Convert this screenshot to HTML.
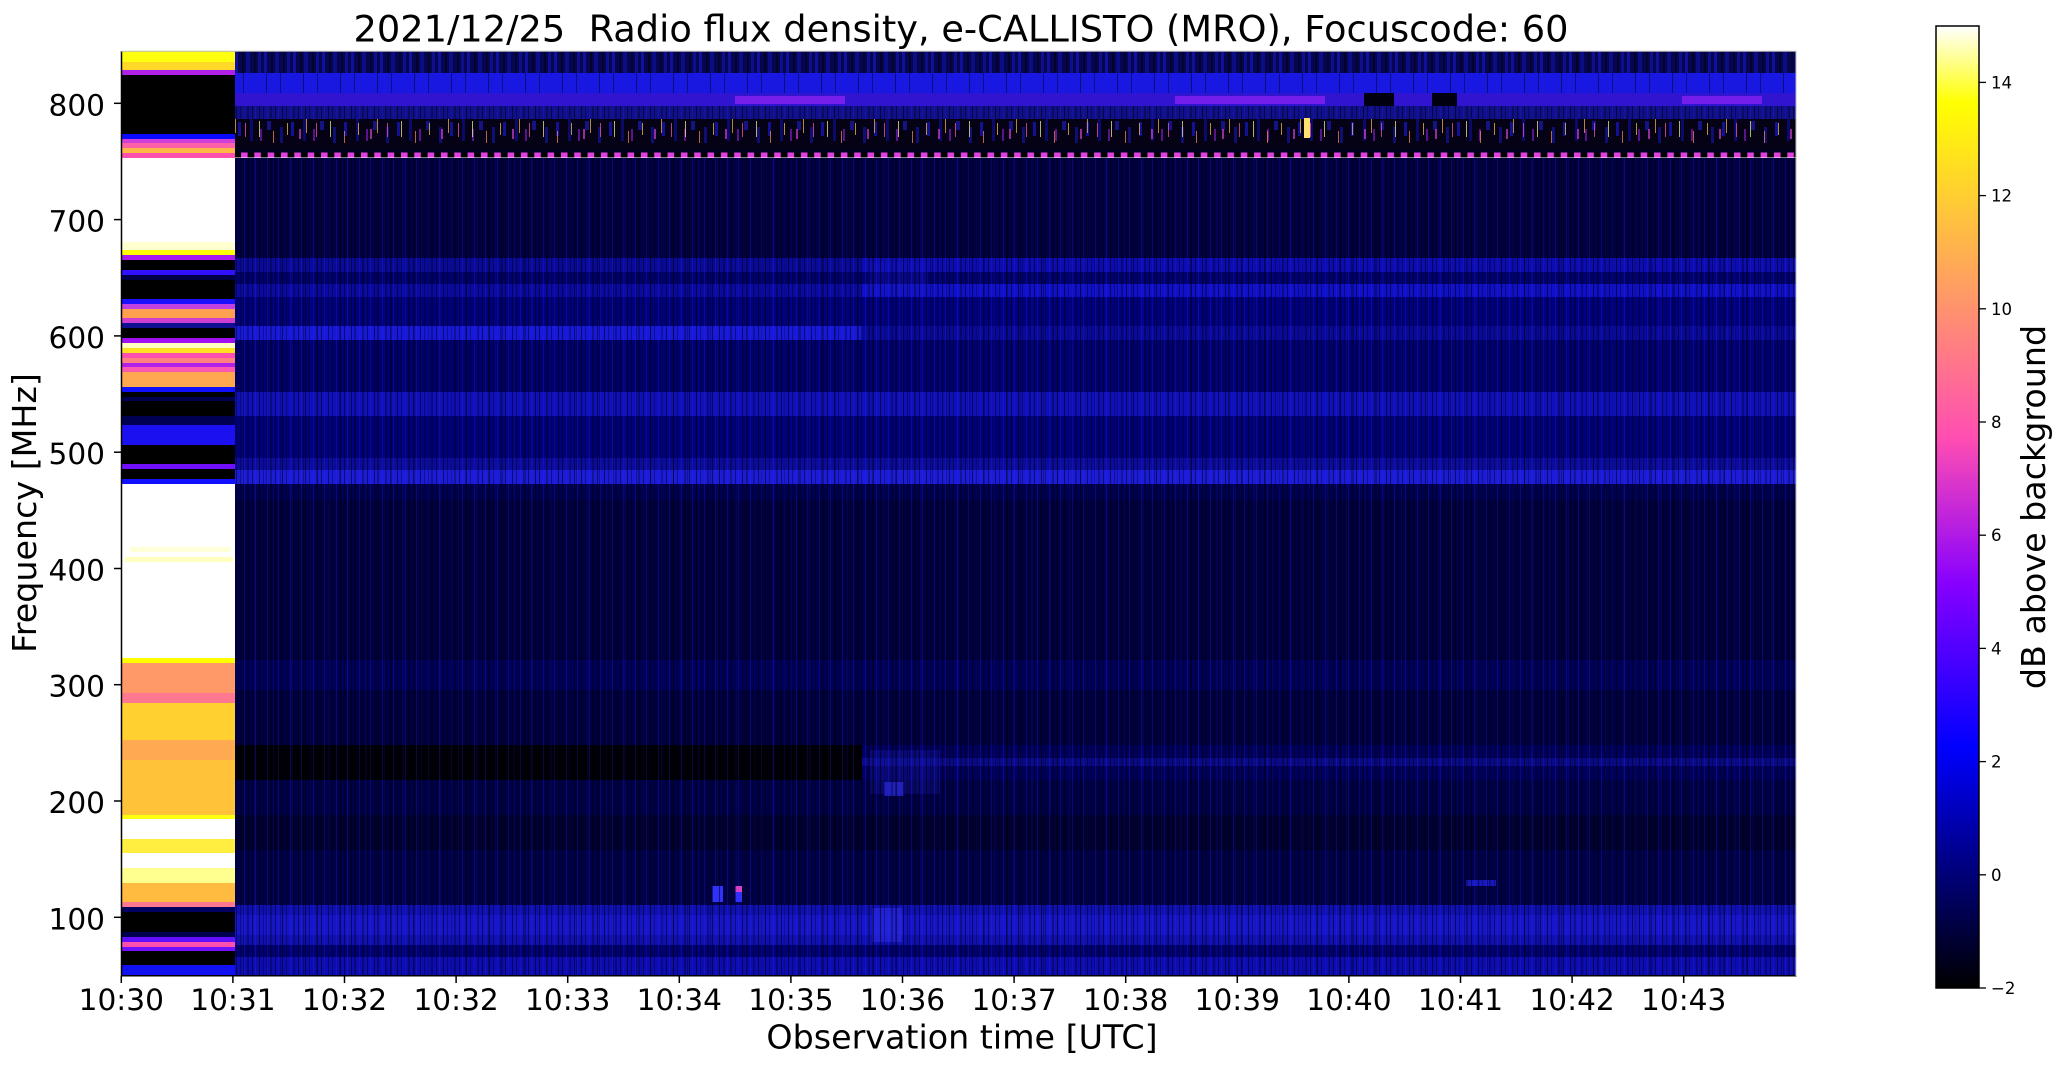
<!DOCTYPE html>
<html><head><meta charset="utf-8">
<style>html,body{margin:0;padding:0;background:#fff;}svg{display:block}</style>
</head><body>
<svg width="2066" height="1067" viewBox="0 0 2066 1067" xmlns="http://www.w3.org/2000/svg" font-family="'DejaVu Sans','Liberation Sans',sans-serif">
<defs>
<linearGradient id="cmap" x1="0" y1="1" x2="0" y2="0">
 <stop offset="0" stop-color="#000000"/>
 <stop offset="0.25" stop-color="#0000ff"/>
 <stop offset="0.42" stop-color="#8700ff"/>
 <stop offset="0.57" stop-color="#ff4db3"/>
 <stop offset="0.92" stop-color="#ffff00"/>
 <stop offset="1" stop-color="#ffffff"/>
</linearGradient>
<pattern id="streaks" patternUnits="userSpaceOnUse" x="235" y="0" width="23" height="10">
 <rect x="1" y="0" width="1" height="10" fill="#000" opacity="0.55"/>
 <rect x="5" y="0" width="1" height="10" fill="#000" opacity="0.35"/>
 <rect x="9" y="0" width="1" height="10" fill="#2a2aff" opacity="0.22"/>
 <rect x="12" y="0" width="2" height="10" fill="#000" opacity="0.3"/>
 <rect x="17" y="0" width="1" height="10" fill="#000" opacity="0.5"/>
 <rect x="20" y="0" width="1" height="10" fill="#3030ff" opacity="0.18"/>
</pattern>
<pattern id="streaks2" patternUnits="userSpaceOnUse" x="240" y="0" width="37" height="10">
 <rect x="3" y="0" width="1" height="10" fill="#000" opacity="0.4"/>
 <rect x="14" y="0" width="2" height="10" fill="#1a1aff" opacity="0.15"/>
 <rect x="26" y="0" width="1" height="10" fill="#000" opacity="0.45"/>
 <rect x="33" y="0" width="1" height="10" fill="#2020ff" opacity="0.12"/>
</pattern>
<pattern id="burstA" patternUnits="userSpaceOnUse" x="236" y="119" width="53" height="31">
 <rect x="2" y="3" width="3" height="14" fill="#1e1eff"/>
 <rect x="14" y="0" width="3" height="22" fill="#1010b0"/>
 <rect x="24" y="10" width="2" height="12" fill="#a020f0"/>
 <rect x="31" y="2" width="4" height="9" fill="#2020e0"/>
 <rect x="44" y="8" width="3" height="16" fill="#1818c0"/>
</pattern>
<pattern id="burstB" patternUnits="userSpaceOnUse" x="240" y="119" width="71" height="31">
 <rect x="5" y="4" width="1" height="14" fill="#ff5cb0"/>
 <rect x="19" y="2" width="1" height="16" fill="#ffff90"/>
 <rect x="33" y="12" width="1" height="12" fill="#ff9060"/>
 <rect x="47" y="4" width="1" height="12" fill="#ffd040"/>
 <rect x="59" y="10" width="2" height="10" fill="#d040d0"/>
 <rect x="66" y="0" width="1" height="14" fill="#ffc040"/>
</pattern>
<pattern id="dash" patternUnits="userSpaceOnUse" x="241" y="0" width="13.33" height="10">
 <rect x="0" y="0" width="6.6" height="10" fill="#e040e0"/>
</pattern>
<pattern id="topblue" patternUnits="userSpaceOnUse" x="235" y="0" width="29" height="10">
 <rect x="0" y="0" width="3" height="10" fill="#1c1cf0" opacity="0.8"/>
 <rect x="7" y="0" width="2" height="10" fill="#000" opacity="0.7"/>
 <rect x="11" y="0" width="4" height="10" fill="#1414d0" opacity="0.7"/>
 <rect x="19" y="0" width="2" height="10" fill="#000" opacity="0.6"/>
 <rect x="23" y="0" width="3" height="10" fill="#2020ff" opacity="0.6"/>
</pattern>
</defs>

<rect x="0" y="0" width="2066" height="1067" fill="#ffffff"/>

<!-- Title -->
<text x="961" y="41.7" font-size="36.5" text-anchor="middle" textLength="1215" lengthAdjust="spacingAndGlyphs" fill="#000" xml:space="preserve">2021/12/25  Radio flux density, e-CALLISTO (MRO), Focuscode: 60</text>

<!-- ===== Left strip (x 121-235) ===== -->
<g shape-rendering="crispEdges">
<rect x="121" y="51" width="114" height="11" fill="#ffff10"/>
<rect x="121" y="62" width="114" height="8" fill="#ffd828"/>
<rect x="121" y="70" width="114" height="5" fill="#b020e8"/>
<rect x="121" y="75" width="114" height="59" fill="#000000"/>
<rect x="121" y="134" width="114" height="5" fill="#0a0aff"/>
<rect x="121" y="139" width="114" height="4" fill="#d040d8"/>
<rect x="121" y="143" width="114" height="5" fill="#ff60a8"/>
<rect x="121" y="148" width="114" height="5" fill="#ffb848"/>
<rect x="121" y="153" width="114" height="5" fill="#ff50b0"/>
<rect x="121" y="158" width="114" height="84" fill="#ffffff"/>
<rect x="121" y="242" width="114" height="8" fill="#ffffd0"/>
<rect x="121" y="250" width="114" height="5" fill="#ffff00"/>
<rect x="121" y="255" width="114" height="5" fill="#a818f0"/>
<rect x="121" y="260" width="114" height="10" fill="#000000"/>
<rect x="121" y="270" width="114" height="5" fill="#3010ff"/>
<rect x="121" y="275" width="114" height="5" fill="#000048"/>
<rect x="121" y="280" width="114" height="19" fill="#000000"/>
<rect x="121" y="299" width="114" height="5" fill="#1a10ff"/>
<rect x="121" y="304" width="114" height="5" fill="#c040e0"/>
<rect x="121" y="309" width="114" height="9" fill="#ffa050"/>
<rect x="121" y="318" width="114" height="5" fill="#d040d0"/>
<rect x="121" y="323" width="114" height="5" fill="#101090"/>
<rect x="121" y="328" width="114" height="10" fill="#000000"/>
<rect x="121" y="338" width="114" height="5" fill="#a010f0"/>
<rect x="121" y="343" width="114" height="5" fill="#ffffc0"/>
<rect x="121" y="348" width="114" height="5" fill="#ffe020"/>
<rect x="121" y="353" width="114" height="5" fill="#ff50b0"/>
<rect x="121" y="358" width="114" height="5" fill="#ff8080"/>
<rect x="121" y="363" width="114" height="4" fill="#b020e8"/>
<rect x="121" y="367" width="114" height="5" fill="#ff58b0"/>
<rect x="121" y="372" width="114" height="15" fill="#ffa850"/>
<rect x="121" y="387" width="114" height="5" fill="#1010ff"/>
<rect x="121" y="392" width="114" height="5" fill="#000000"/>
<rect x="121" y="397" width="114" height="4" fill="#000050"/>
<rect x="121" y="401" width="114" height="15" fill="#000000"/>
<rect x="121" y="416" width="114" height="9" fill="#000050"/>
<rect x="121" y="425" width="114" height="20" fill="#1a10f0"/>
<rect x="121" y="445" width="114" height="19" fill="#000000"/>
<rect x="121" y="464" width="114" height="5" fill="#7010ff"/>
<rect x="121" y="469" width="114" height="10" fill="#000000"/>
<rect x="121" y="479" width="114" height="5" fill="#1010ff"/>
<rect x="121" y="484" width="114" height="174" fill="#ffffff"/>
<rect x="130" y="547" width="100" height="5" fill="#ffffd8"/>
<rect x="125" y="557" width="108" height="5" fill="#ffffc0"/>
<rect x="121" y="658" width="114" height="5" fill="#ffff00"/>
<rect x="121" y="663" width="114" height="30" fill="#ff9a68"/>
<rect x="121" y="693" width="114" height="10" fill="#ff7890"/>
<rect x="121" y="703" width="114" height="37" fill="#ffd030"/>
<rect x="121" y="740" width="114" height="20" fill="#ffaa50"/>
<rect x="121" y="760" width="114" height="55" fill="#ffc238"/>
<rect x="121" y="815" width="114" height="4" fill="#ffff10"/>
<rect x="121" y="819" width="114" height="20" fill="#ffffff"/>
<rect x="121" y="839" width="114" height="14" fill="#ffee40"/>
<rect x="121" y="853" width="114" height="15" fill="#ffffff"/>
<rect x="121" y="868" width="114" height="15" fill="#ffff90"/>
<rect x="121" y="883" width="114" height="19" fill="#ffba40"/>
<rect x="121" y="902" width="114" height="5" fill="#ff7890"/>
<rect x="121" y="907" width="114" height="5" fill="#000060"/>
<rect x="121" y="912" width="114" height="20" fill="#000000"/>
<rect x="121" y="932" width="114" height="5" fill="#000050"/>
<rect x="121" y="937" width="114" height="5" fill="#6010ff"/>
<rect x="121" y="942" width="114" height="5" fill="#ff50b0"/>
<rect x="121" y="947" width="114" height="4" fill="#7010ff"/>
<rect x="121" y="951" width="114" height="14" fill="#000000"/>
<rect x="121" y="965" width="114" height="11" fill="#1010f0"/>
</g>

<!-- ===== Main spectrogram (x 235-1796) ===== -->
<g shape-rendering="crispEdges">
<rect x="235" y="51" width="1561" height="22" fill="#06064e"/>
<rect x="235" y="51" width="1561" height="22" fill="url(#topblue)" opacity="0.6"/>
<rect x="235" y="73" width="1561" height="20" fill="#1818e0"/>
<rect x="235" y="73" width="1561" height="20" fill="url(#streaks2)"/>
<rect x="235" y="93" width="1561" height="13" fill="#3014d0"/>
<rect x="735" y="96" width="110" height="8" fill="#8a22f0" opacity="0.8"/>
<rect x="1175" y="96" width="150" height="8" fill="#8420f0" opacity="0.8"/>
<rect x="1682" y="96" width="80" height="8" fill="#8420f0" opacity="0.8"/>
<rect x="1364" y="93" width="30" height="13" fill="#000010"/>
<rect x="1432" y="93" width="25" height="13" fill="#000010"/>
<rect x="235" y="106" width="1561" height="13" fill="#10108a"/>
<rect x="235" y="106" width="1561" height="13" fill="url(#streaks)"/>
<rect x="235" y="119" width="1561" height="31" fill="#040214"/>
<rect x="235" y="119" width="1561" height="31" fill="url(#burstA)" opacity="0.55"/>
<rect x="235" y="119" width="1561" height="31" fill="url(#burstB)" opacity="0.7"/>
<rect x="1304" y="118" width="6" height="20" fill="#ffe070"/>
<rect x="235" y="150" width="1561" height="3" fill="#000020"/>
<rect x="235" y="152.7" width="1561" height="5" fill="#000000"/>
<rect x="241" y="152.7" width="1555" height="5" fill="url(#dash)"/>
<rect x="235" y="158" width="1561" height="100" fill="#000042"/>

<!-- left part (235-862) -->
<rect x="235" y="258" width="627" height="14" fill="#0a0a98"/>
<rect x="235" y="272" width="627" height="12" fill="#00006a"/>
<rect x="235" y="284" width="627" height="13" fill="#0a0aa0"/>
<rect x="235" y="297" width="627" height="29" fill="#000078"/>
<rect x="235" y="326" width="627" height="14" fill="#1818d8"/>
<rect x="235" y="340" width="627" height="52" fill="#00006a"/>
<!-- right part (862-1796) -->
<rect x="862" y="258" width="934" height="14" fill="#0c0cb0"/>
<rect x="862" y="272" width="934" height="12" fill="#00006e"/>
<rect x="862" y="284" width="934" height="13" fill="#1010c8"/>
<rect x="862" y="297" width="934" height="29" fill="#00007e"/>
<rect x="862" y="326" width="934" height="14" fill="#0a0a9a"/>
<rect x="862" y="340" width="934" height="52" fill="#000070"/>

<rect x="235" y="392" width="1561" height="24" fill="#1010b8"/>
<rect x="235" y="416" width="1561" height="42" fill="#000078"/>
<rect x="235" y="458" width="1561" height="12" fill="#0c0c9c"/>
<rect x="235" y="470" width="1561" height="14" fill="#1c1cd8"/>
<rect x="235" y="484" width="1561" height="16" fill="#000050"/>
<rect x="235" y="500" width="1561" height="245" fill="#000040"/>
<rect x="235" y="660" width="1561" height="30" fill="#00005a"/>
<rect x="235" y="745" width="627" height="35" fill="#000006"/>
<rect x="862" y="745" width="934" height="35" fill="#00005c"/>
<rect x="862" y="758" width="934" height="8" fill="#0a0a88"/>
<rect x="235" y="780" width="1561" height="125" fill="#000048"/>
<rect x="235" y="815" width="1561" height="35" fill="#000032"/>
<rect x="235" y="905" width="1561" height="40" fill="#1010b0"/>
<rect x="235" y="915" width="1561" height="20" fill="#1616c8"/>
<rect x="235" y="945" width="1561" height="12" fill="#000070"/>
<rect x="235" y="957" width="1561" height="19" fill="#0c0cb0"/>

<!-- 10:36 disturbance -->
<rect x="868" y="262" width="60" height="34" fill="#1818c8" opacity="0.3"/>
<rect x="870" y="750" width="70" height="44" fill="#1a1ab8" opacity="0.3"/>
<rect x="884" y="782" width="20" height="14" fill="#2a2ae0" opacity="0.7"/>
<rect x="872" y="908" width="30" height="34" fill="#2828e0" opacity="0.7"/>
<!-- small blobs -->
<rect x="712" y="886" width="11" height="16" fill="#3030ff"/>
<rect x="735" y="886" width="7" height="6" fill="#e040c0"/>
<rect x="735" y="892" width="7" height="10" fill="#3030ff"/>
<rect x="1466" y="880" width="30" height="6" fill="#1818c0"/>

<!-- vertical streak texture -->
<rect x="235" y="158" width="1561" height="818" fill="url(#streaks)"/>
<rect x="235" y="158" width="1561" height="818" fill="url(#streaks2)" opacity="0.7"/>
</g>

<!-- spines -->
<line x1="121.5" y1="51" x2="121.5" y2="976.5" stroke="#000" stroke-width="1.5"/>
<line x1="121" y1="975.7" x2="1796.5" y2="975.7" stroke="#000" stroke-width="1.5"/>
<line x1="121" y1="51.2" x2="1796.5" y2="51.2" stroke="#bbbbbb" stroke-width="1"/>
<line x1="1796" y1="51" x2="1796" y2="976" stroke="#bbbbbb" stroke-width="1"/>

<!-- y ticks -->
<g stroke="#000" stroke-width="1.5">
<line x1="114" y1="103.3" x2="121" y2="103.3"/>
<line x1="114" y1="219.6" x2="121" y2="219.6"/>
<line x1="114" y1="335.9" x2="121" y2="335.9"/>
<line x1="114" y1="452.2" x2="121" y2="452.2"/>
<line x1="114" y1="568.5" x2="121" y2="568.5"/>
<line x1="114" y1="684.7" x2="121" y2="684.7"/>
<line x1="114" y1="801.0" x2="121" y2="801.0"/>
<line x1="114" y1="917.3" x2="121" y2="917.3"/>
</g>
<g font-size="29.6" text-anchor="end" fill="#000">
<text x="105" y="115.3">800</text>
<text x="105" y="231.6">700</text>
<text x="105" y="347.9">600</text>
<text x="105" y="464.2">500</text>
<text x="105" y="580.5">400</text>
<text x="105" y="696.7">300</text>
<text x="105" y="813.0">200</text>
<text x="105" y="929.3">100</text>
</g>

<!-- x ticks -->
<g stroke="#000" stroke-width="1.5">
<line x1="121.3" y1="976" x2="121.3" y2="983"/>
<line x1="232.9" y1="976" x2="232.9" y2="983"/>
<line x1="344.5" y1="976" x2="344.5" y2="983"/>
<line x1="456.1" y1="976" x2="456.1" y2="983"/>
<line x1="567.7" y1="976" x2="567.7" y2="983"/>
<line x1="679.3" y1="976" x2="679.3" y2="983"/>
<line x1="790.9" y1="976" x2="790.9" y2="983"/>
<line x1="902.5" y1="976" x2="902.5" y2="983"/>
<line x1="1014.1" y1="976" x2="1014.1" y2="983"/>
<line x1="1125.7" y1="976" x2="1125.7" y2="983"/>
<line x1="1237.3" y1="976" x2="1237.3" y2="983"/>
<line x1="1348.9" y1="976" x2="1348.9" y2="983"/>
<line x1="1460.5" y1="976" x2="1460.5" y2="983"/>
<line x1="1572.1" y1="976" x2="1572.1" y2="983"/>
<line x1="1683.7" y1="976" x2="1683.7" y2="983"/>
</g>
<g font-size="29.6" text-anchor="middle" fill="#000">
<text x="121.3" y="1010">10:30</text>
<text x="232.9" y="1010">10:31</text>
<text x="344.5" y="1010">10:32</text>
<text x="456.1" y="1010">10:32</text>
<text x="567.7" y="1010">10:33</text>
<text x="679.3" y="1010">10:34</text>
<text x="790.9" y="1010">10:35</text>
<text x="902.5" y="1010">10:36</text>
<text x="1014.1" y="1010">10:37</text>
<text x="1125.7" y="1010">10:38</text>
<text x="1237.3" y="1010">10:39</text>
<text x="1348.9" y="1010">10:40</text>
<text x="1460.5" y="1010">10:41</text>
<text x="1572.1" y="1010">10:42</text>
<text x="1683.7" y="1010">10:43</text>
</g>

<!-- axis labels -->
<text x="962" y="1048.5" font-size="33.3" text-anchor="middle" fill="#000">Observation time [UTC]</text>
<text transform="translate(36,513) rotate(-90)" font-size="33.3" text-anchor="middle" fill="#000">Frequency [MHz]</text>

<!-- colorbar -->
<rect x="1936" y="26" width="43" height="962" fill="url(#cmap)"/>
<rect x="1936" y="26" width="43" height="962" fill="none" stroke="#000" stroke-width="1.5"/>
<g stroke="#000" stroke-width="1.3">
<line x1="1979" y1="82.4" x2="1986" y2="82.4"/>
<line x1="1979" y1="195.6" x2="1986" y2="195.6"/>
<line x1="1979" y1="308.8" x2="1986" y2="308.8"/>
<line x1="1979" y1="422.0" x2="1986" y2="422.0"/>
<line x1="1979" y1="535.2" x2="1986" y2="535.2"/>
<line x1="1979" y1="648.4" x2="1986" y2="648.4"/>
<line x1="1979" y1="761.6" x2="1986" y2="761.6"/>
<line x1="1979" y1="874.8" x2="1986" y2="874.8"/>
<line x1="1979" y1="988.0" x2="1986" y2="988.0"/>
</g>
<g font-size="16.6" fill="#000">
<text x="1991" y="88.4">14</text>
<text x="1991" y="201.6">12</text>
<text x="1991" y="314.8">10</text>
<text x="1991" y="428.0">8</text>
<text x="1991" y="541.2">6</text>
<text x="1991" y="654.4">4</text>
<text x="1991" y="767.6">2</text>
<text x="1991" y="880.8">0</text>
<text x="1991" y="994.0">−2</text>
</g>
<text transform="translate(2045,507) rotate(-90)" font-size="33.3" text-anchor="middle" fill="#000">dB above background</text>
</svg>
</body></html>
